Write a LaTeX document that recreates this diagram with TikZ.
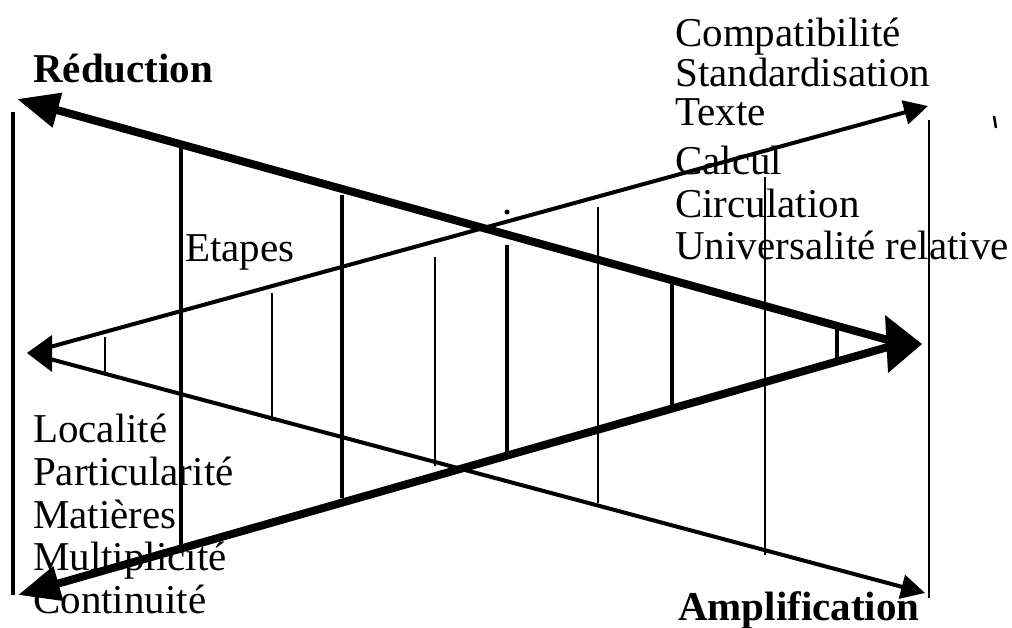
\documentclass[tikz,border=0pt]{standalone}
\usepackage{fontspec}
\setmainfont{Liberation Serif}
\usetikzlibrary{arrows.meta}
\tikzset{
  thickarrow/.style={line width=8pt},
  thinarrow/.style={line width=4pt},
  heavyvert/.style={line width=4.5pt},
  lightvert/.style={line width=2.6pt},
  lbl/.style={anchor=base west, inner sep=0pt, font=\fontsize{41}{41}\selectfont},
  blbl/.style={anchor=base west, inner sep=0pt, font=\fontsize{41}{41}\selectfont\bfseries},
  bighead/.style={-{Triangle[length=42pt,width=34pt]}},
  smallhead/.style={-{Triangle[length=24pt,width=24pt]}},
}
\begin{document}
\begin{tikzpicture}[x=1pt,y=-1pt]
\useasboundingbox (0,0) rectangle (1012,628);

% labels
\node[blbl] (red) at (33,83) {Réduction};
\node[blbl] (amp) at (678,620) {Amplification};
\node[lbl] (etapes) at (185,262) {Etapes};
\node[lbl] (r1) at (675,47) {Compatibilité};
\node[lbl] (r2) at (675,87) {Standardisation};
\node[lbl] (r3) at (675,126) {Texte};
\node[lbl] (r4) at (675,175) {Calcul};
\node[lbl] (r5) at (675,218) {Circulation};
\node[lbl] (r6) at (675,260) {Universalité relative};
\node[lbl] (l1) at (33,442) {Localité};
\node[lbl] (l2) at (33,485) {Particularité};
\node[lbl] (l3) at (33,528) {Matières};
\node[lbl] (l4) at (33,570) {Multiplicité};
\node[lbl] (l5) at (33,613) {Continuité};

% key points
\coordinate (redtip) at (17,99);
\coordinate (conttip) at (18,595);
\coordinate (rconvU) at (888,340);
\coordinate (rconvL) at (888,347);
\coordinate (rtip) at (922,344);
\coordinate (ltip) at (27,353);
\coordinate (lconvU) at (50,347);
\coordinate (lconvL) at (50,359);
\coordinate (trtip) at (928,106);
\coordinate (brtip) at (925,593);

% vertical frame lines
\draw[line width=3.5pt] (13,112) -- (13,595);
\draw[line width=2pt] (929,120) -- (929,598);

% heavy verticals (between thick lines)
\draw[heavyvert] (181,145) -- (181,548);
\draw[heavyvert] (342,195) -- (342,498);
\draw[heavyvert] (507,245) -- (507,455);
\draw[heavyvert] (672,282) -- (672,407);
\draw[heavyvert] (837,327) -- (837,360);

% light verticals (between thin lines)
\draw[lightvert] (105,337) -- (105,372);
\draw[lightvert] (272,293) -- (272,421);
\draw[lightvert] (435,257) -- (435,466);
\draw[lightvert] (598,207) -- (598,503);
\draw[lightvert] (765,177) -- (765,555);

% thick arrows converging right
\draw[thickarrow,bighead] (rconvU) -- (redtip);
\draw[thickarrow,bighead] (rconvL) -- (conttip);
\fill (rtip) -- (885,315) -- (888,373) -- cycle;

% thin arrows converging left
\draw[thinarrow,smallhead] (lconvU) -- (trtip);
\draw[thinarrow,smallhead] (lconvL) -- (brtip);
\fill (ltip) -- (52,335) -- (52,372) -- cycle;

% small marks
\fill (507,212) circle (2.5pt);
\draw[line width=2.5pt] (994,116) -- (996,128);
\end{tikzpicture}
\end{document}
